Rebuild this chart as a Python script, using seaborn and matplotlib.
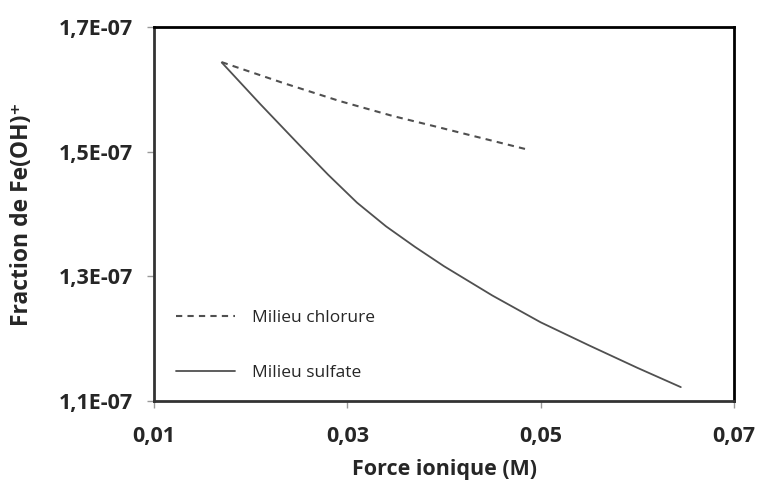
import seaborn as sns
import matplotlib.pyplot as plt
import pandas as pd
from matplotlib.ticker import FuncFormatter

# ionic strength (M) vs Fe(OH)+ fraction
chlor_x = [0.0170, 0.0233, 0.0292, 0.0347, 0.0396, 0.0444, 0.0487]
chlor_y = [1.6435e-7, 1.6104e-7, 1.5811e-7, 1.5571e-7, 1.5384e-7, 1.5197e-7, 1.5030e-7]

sulf_x = [0.0170, 0.0210, 0.0250, 0.0280, 0.0310, 0.0340, 0.0370, 0.0400,
          0.0450, 0.0500, 0.0550, 0.0600, 0.0645]
sulf_y = [1.643e-7, 1.576e-7, 1.511e-7, 1.463e-7, 1.418e-7, 1.380e-7, 1.347e-7,
          1.316e-7, 1.269e-7, 1.226e-7, 1.189e-7, 1.153e-7, 1.122e-7]

xticks = [0.01, 0.03, 0.05, 0.07]
yticks = [1.1e-7, 1.3e-7, 1.5e-7, 1.7e-7]

sns.set_style('white')
plt.rcParams['font.family'] = ['Open Sans', 'DejaVu Sans']

chlor = pd.DataFrame({'x': chlor_x, 'y': chlor_y})
sulf = pd.DataFrame({'x': sulf_x, 'y': sulf_y})

fig = plt.figure(figsize=(7.59, 4.90), dpi=100)
ax = fig.add_axes([0.203, 0.182, 0.764, 0.763])

sns.lineplot(data=chlor, x='x', y='y', ax=ax, color='#505050', lw=1.5,
             linestyle=(0, (3, 2.5)), label='Milieu chlorure')
sns.lineplot(data=sulf, x='x', y='y', ax=ax, color='#505050', lw=1.3,
             label='Milieu sulfate')

ax.set_xlim(0.01, 0.07)
ax.set_ylim(1.1e-7, 1.7e-7)
ax.set_xticks(xticks)
ax.set_yticks(yticks)
ax.xaxis.set_major_formatter(FuncFormatter(lambda v, p: f'{v:.2f}'.replace('.', ',')))
ax.yaxis.set_major_formatter(FuncFormatter(lambda v, p: f'{v:.1E}'.replace('.', ',')))
ax.yaxis.get_offset_text().set_visible(False)

for lab in ax.get_xticklabels() + ax.get_yticklabels():
    lab.set_fontsize(15.5)
    lab.set_fontweight('bold')

ax.tick_params(axis='both', which='major', direction='out', length=5, width=1,
               color='#999999', left=True, bottom=True)
ax.tick_params(axis='y', pad=10)
ax.tick_params(axis='x', pad=13)

for side in ['top', 'right']:
    ax.spines[side].set_color('black')
    ax.spines[side].set_linewidth(2)
for side in ['left', 'bottom']:
    ax.spines[side].set_color('#333333')
    ax.spines[side].set_linewidth(2)

ax.set_xlabel('Force ionique (M)', fontsize=15.5, fontweight='bold', labelpad=9)
ax.set_ylabel('Fraction de Fe(OH)\u207a', fontsize=16.5, fontweight='bold', labelpad=18)

ax.legend(loc='lower left', bbox_to_anchor=(0.01, 0.012), frameon=False,
          fontsize=12.5, handlelength=3.4, labelspacing=2.2, handletextpad=1.0)

fig.savefig('out.png', dpi=100)
